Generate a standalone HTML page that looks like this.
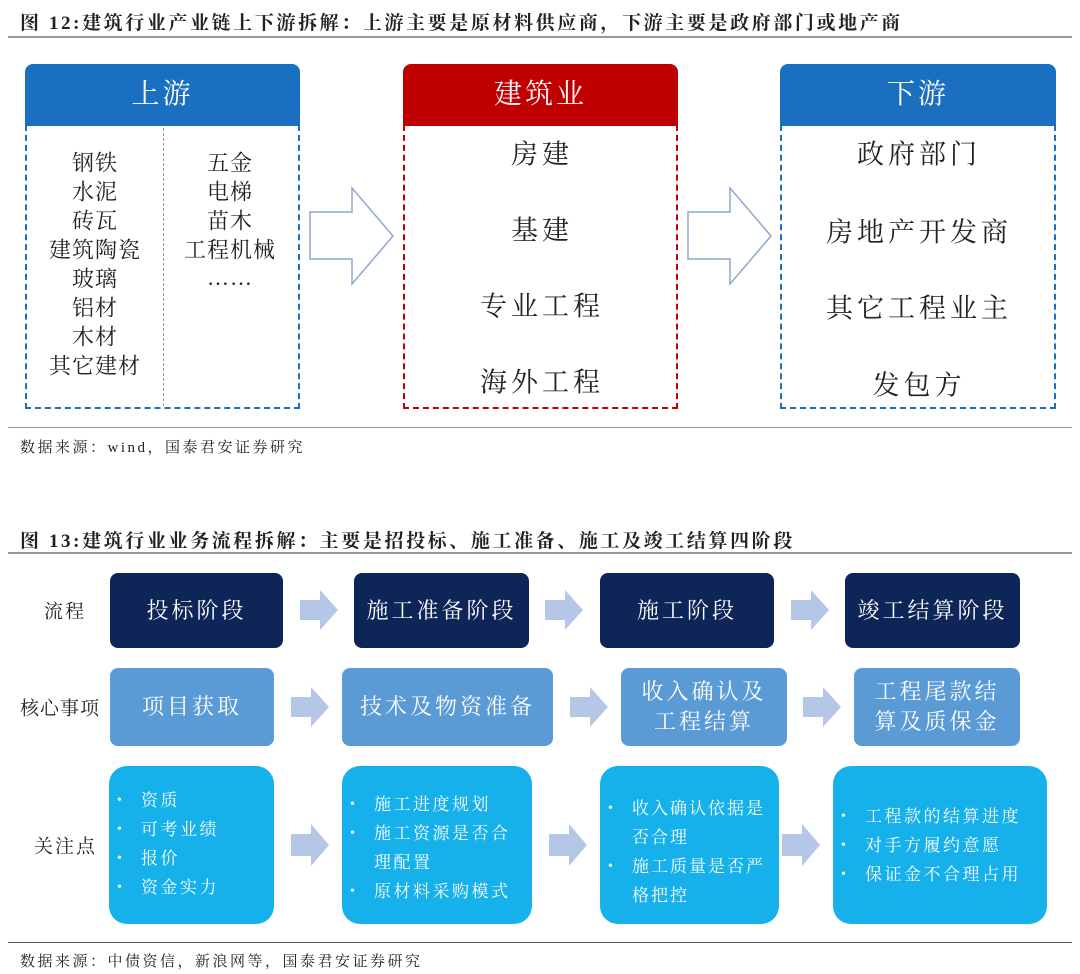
<!DOCTYPE html>
<html><head><meta charset="utf-8"><style>
*{margin:0;padding:0;box-sizing:border-box}
body{width:1080px;height:974px;background:#fff;position:relative;overflow:hidden;font-family:"Liberation Serif","Noto Serif CJK SC",serif;color:#222}
.a{position:absolute}
.t{position:absolute;font-weight:bold;font-size:19px;left:20px;letter-spacing:2.6px;white-space:nowrap}
.hl{position:absolute;height:2px;background:#999}
.hd{position:absolute;height:62px;border-radius:8px 8px 0 0;color:#fff;font-size:28px;text-align:center;line-height:62px;letter-spacing:3px}
.bd{position:absolute;border:2px dashed;border-top:none}
.c{position:absolute;text-align:center;font-size:22px;white-space:nowrap;transform:translate(-50%,-50%);letter-spacing:1px}
.c2{position:absolute;text-align:center;font-size:27px;white-space:nowrap;transform:translate(-50%,-50%);letter-spacing:4px}
.bx{position:absolute;color:#fff;display:flex;align-items:center;justify-content:center;text-align:center;border-radius:8px;font-size:22px;line-height:30px;letter-spacing:3px}
.n{background:#0e2557}.m{background:#5b9bd5}.l{background:#16b1ea;border-radius:18px;justify-content:flex-start;align-items:flex-start;font-size:17px;line-height:29px;text-align:left;letter-spacing:2.5px}
.lb{position:absolute;font-size:19px;transform:translateY(-50%);letter-spacing:2px}
ul{list-style:none}
li{position:relative;padding-left:32px}
li:before{content:"•";position:absolute;left:8px;font-size:14px}
.src{position:absolute;font-size:15px;left:20px;letter-spacing:2.5px}
</style></head><body>
<div class="t" style="top:8px">图 12:建筑行业产业链上下游拆解：上游主要是原材料供应商，下游主要是政府部门或地产商</div>
<div class="hl" style="left:8px;top:36px;width:1064px"></div>

<div class="hd" style="left:25px;top:64px;width:275px;background:#1a6fc0">上游</div>
<div class="bd" style="left:25px;top:125px;width:275px;height:284px;border-color:#1a6fc0"></div>
<div class="a" style="left:163px;top:128px;height:278px;border-left:1px dashed #999"></div>
<div class="c" style="left:95px;top:162px">钢铁</div>
<div class="c" style="left:95px;top:191px">水泥</div>
<div class="c" style="left:95px;top:220px">砖瓦</div>
<div class="c" style="left:95px;top:249px">建筑陶瓷</div>
<div class="c" style="left:95px;top:278px">玻璃</div>
<div class="c" style="left:95px;top:307px">铝材</div>
<div class="c" style="left:95px;top:336px">木材</div>
<div class="c" style="left:95px;top:365px">其它建材</div>
<div class="c" style="left:230px;top:162px">五金</div>
<div class="c" style="left:230px;top:191px">电梯</div>
<div class="c" style="left:230px;top:220px">苗木</div>
<div class="c" style="left:230px;top:249px">工程机械</div>
<div class="c" style="left:230px;top:278px">……</div>

<svg class="a" style="left:0;top:0" width="1080" height="420">
<polygon points="310,212 352,212 352,188 393,236 352,284 352,259 310,259" fill="#fff" stroke="#8aa8cf" stroke-width="1.5"/>
<polygon points="688,212 730,212 730,188 771,236 730,284 730,259 688,259" fill="#fff" stroke="#8aa8cf" stroke-width="1.5"/>
</svg>

<div class="hd" style="left:403px;top:64px;width:275px;background:#c00000">建筑业</div>
<div class="bd" style="left:403px;top:125px;width:275px;height:284px;border-color:#c00000"></div>
<div class="c2" style="left:542px;top:152px">房建</div>
<div class="c2" style="left:542px;top:228px">基建</div>
<div class="c2" style="left:542px;top:304px">专业工程</div>
<div class="c2" style="left:542px;top:380px">海外工程</div>

<div class="hd" style="left:780px;top:64px;width:276px;background:#1a6fc0">下游</div>
<div class="bd" style="left:780px;top:125px;width:276px;height:284px;border-color:#1a6fc0"></div>
<div class="c2" style="left:919px;top:152px">政府部门</div>
<div class="c2" style="left:919px;top:230px">房地产开发商</div>
<div class="c2" style="left:919px;top:306px">其它工程业主</div>
<div class="c2" style="left:919px;top:383px">发包方</div>

<div class="hl" style="left:8px;top:427px;width:1064px;height:1px"></div>
<div class="src" style="top:436px">数据来源：wind，国泰君安证券研究</div>

<div class="t" style="top:526px">图 13:建筑行业业务流程拆解：主要是招投标、施工准备、施工及竣工结算四阶段</div>
<div class="hl" style="left:8px;top:552px;width:1064px"></div>

<div class="lb" style="left:44px;top:610px">流程</div>
<div class="lb" style="left:20px;top:707px;letter-spacing:1px">核心事项</div>
<div class="lb" style="left:34px;top:845px">关注点</div>

<div class="bx n" style="left:110px;top:573px;width:173px;height:75px">投标阶段</div>
<div class="bx n" style="left:354px;top:573px;width:175px;height:75px">施工准备阶段</div>
<div class="bx n" style="left:600px;top:573px;width:174px;height:75px">施工阶段</div>
<div class="bx n" style="left:845px;top:573px;width:175px;height:75px">竣工结算阶段</div>

<div class="bx m" style="left:110px;top:668px;width:164px;height:78px">项目获取</div>
<div class="bx m" style="left:342px;top:668px;width:211px;height:78px">技术及物资准备</div>
<div class="bx m" style="left:621px;top:668px;width:166px;height:78px">收入确认及<br>工程结算</div>
<div class="bx m" style="left:854px;top:668px;width:166px;height:78px">工程尾款结<br>算及质保金</div>

<div class="bx l" style="left:109px;top:766px;width:165px;height:158px;padding-top:20px"><ul><li>资质</li><li>可考业绩</li><li>报价</li><li>资金实力</li></ul></div>
<div class="bx l" style="left:342px;top:766px;width:190px;height:158px;padding-top:24px;padding-right:4px"><ul><li>施工进度规划</li><li>施工资源是否合理配置</li><li>原材料采购模式</li></ul></div>
<div class="bx l" style="left:600px;top:766px;width:179px;height:158px;padding-top:28px;padding-right:0;letter-spacing:2px"><ul><li>收入确认依据是否合理</li><li>施工质量是否严格把控</li></ul></div>
<div class="bx l" style="left:833px;top:766px;width:214px;height:158px;padding-top:36px"><ul><li>工程款的结算进度</li><li>对手方履约意愿</li><li>保证金不合理占用</li></ul></div>

<svg class="a" style="left:0;top:0" width="1080" height="974">
<g fill="#b4c7e7">
<polygon points="300,600 320,600 320,590 338,610 320,630 320,620 300,620"/>
<polygon points="545,600 565,600 565,590 583,610 565,630 565,620 545,620"/>
<polygon points="791,600 811,600 811,590 829,610 811,630 811,620 791,620"/>
<polygon points="291,697 311,697 311,687 329,707 311,727 311,717 291,717"/>
<polygon points="570,697 590,697 590,687 608,707 590,727 590,717 570,717"/>
<polygon points="803,697 823,697 823,687 841,707 823,727 823,717 803,717"/>
<polygon points="291,834 311,834 311,824 329,845 311,866 311,856 291,856"/>
<polygon points="549,834 569,834 569,824 587,845 569,866 569,856 549,856"/>
<polygon points="782,834 802,834 802,824 820,845 802,866 802,856 782,856"/>
</g></svg>

<div class="hl" style="left:8px;top:942px;width:1064px;height:1px;background:#555"></div>
<div class="src" style="top:950px">数据来源：中债资信，新浪网等，国泰君安证券研究</div>
</body></html>
